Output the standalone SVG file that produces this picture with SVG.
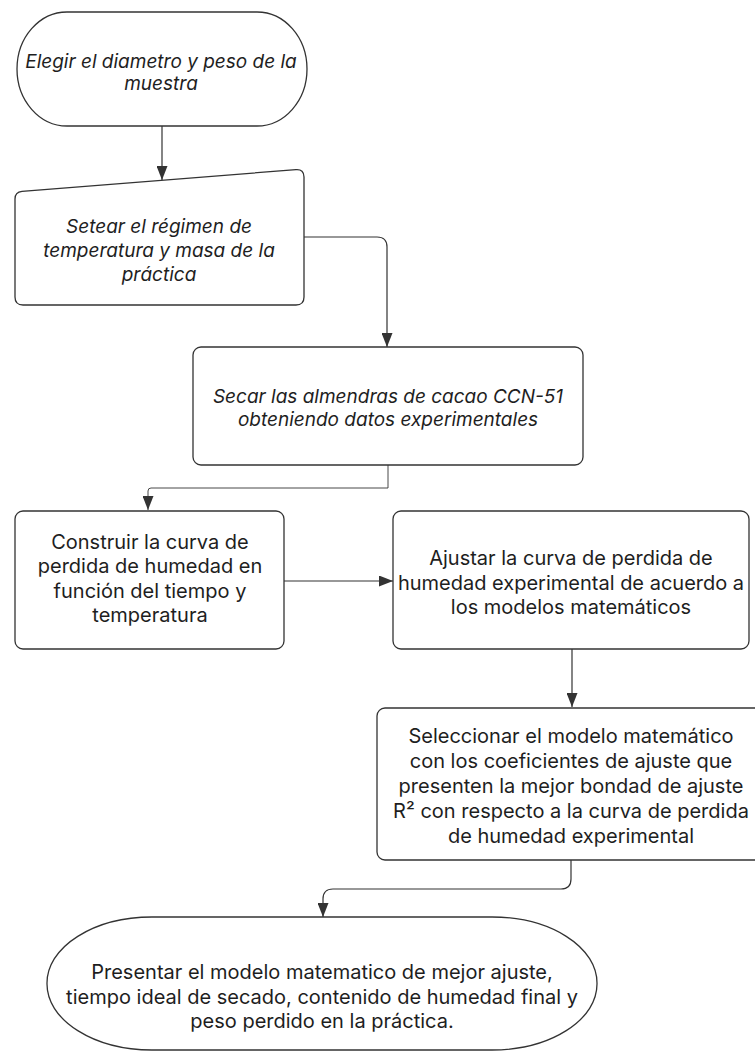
<svg xmlns="http://www.w3.org/2000/svg" width="755" height="1052" viewBox="0 0 755 1052">
<style>
.shape{fill:#ffffff;stroke:#333333;stroke-width:1.3}
.t{font-family:Inter,"Liberation Sans",sans-serif;font-size:20px;fill:#1e1e1e;text-anchor:middle}
.it{font-style:italic;font-size:19px}
.conn{fill:none;stroke:#333333;stroke-width:1.2}
.thin{stroke-width:0.9}
</style>
<defs>
<marker id="arr" markerUnits="userSpaceOnUse" markerWidth="14" markerHeight="11" refX="14" refY="5.5" orient="auto">
<path d="M0,0 L14,5.5 L0,11 Z" fill="#333333"/>
</marker>
</defs>
<rect width="755" height="1052" fill="#ffffff"/>
<g id="connectors">
<path class="conn" d="M162,126 V180" marker-end="url(#arr)"/>
<path class="conn" d="M304,237 H377 Q387,237 387,247 V347" marker-end="url(#arr)"/>
<path class="conn thin" d="M388,465 V488 H151 Q148,488 148,491 V510" marker-end="url(#arr)"/>
<path class="conn" d="M284,581 H393" marker-end="url(#arr)"/>
<path class="conn" d="M572,649 V707" marker-end="url(#arr)"/>
<path class="conn" d="M571,860 V879 Q571,889 561,889 H333 Q323,889 323,899 V917" marker-end="url(#arr)"/>
</g>
<g id="n1">
<rect class="shape" x="17" y="12" width="290" height="114" rx="50" ry="57"/>
<text class="t it" x="161" y="68">Elegir el diametro y peso de la</text>
<text class="t it" x="161" y="90">muestra</text>
</g>
<g id="n2">
<path class="shape" d="M15,199 Q15,192 22,191.4 L296,169.6 Q304,169 304,177 L304,297 Q304,305 296,305 L23,305 Q15,305 15,297 Z"/>
<text class="t it" x="159" y="233">Setear el régimen de</text>
<text class="t it" x="159" y="257">temperatura y masa de la</text>
<text class="t it" x="159" y="281">práctica</text>
</g>
<g id="n3">
<rect class="shape" x="193" y="347" width="390" height="118" rx="8"/>
<text class="t it" x="388" y="403">Secar las almendras de cacao CCN-51</text>
<text class="t it" x="388" y="426">obteniendo datos experimentales</text>
</g>
<g id="n4">
<rect class="shape" x="15" y="511" width="269" height="138" rx="8"/>
<text class="t" x="150" y="549">Construir la curva de</text>
<text class="t" x="150" y="573">perdida de humedad en</text>
<text class="t" x="150" y="598">función del tiempo y</text>
<text class="t" x="150" y="622">temperatura</text>
</g>
<g id="n5">
<rect class="shape" x="393" y="511" width="356" height="138" rx="8"/>
<text class="t" x="571" y="565">Ajustar la curva de perdida de</text>
<text class="t" x="571" y="590">humedad experimental de acuerdo a</text>
<text class="t" x="571" y="614">los modelos matemáticos</text>
</g>
<g id="n6">
<rect class="shape" x="377" y="708" width="390" height="152" rx="8"/>
<text class="t" x="571" y="743">Seleccionar el modelo matemático</text>
<text class="t" x="571" y="768">con los coeficientes de ajuste que</text>
<text class="t" x="571" y="793">presenten la mejor bondad de ajuste</text>
<text class="t" x="571" y="818">R² con respecto a la curva de perdida</text>
<text class="t" x="571" y="843">de humedad experimental</text>
</g>
<g id="n7">
<rect class="shape" x="47" y="917" width="550" height="133" rx="105" ry="66"/>
<text class="t" x="322" y="979">Presentar el modelo matematico de mejor ajuste,</text>
<text class="t" x="322" y="1004">tiempo ideal de secado, contenido de humedad final y</text>
<text class="t" x="322" y="1028">peso perdido en la práctica.</text>
</g>
</svg>
